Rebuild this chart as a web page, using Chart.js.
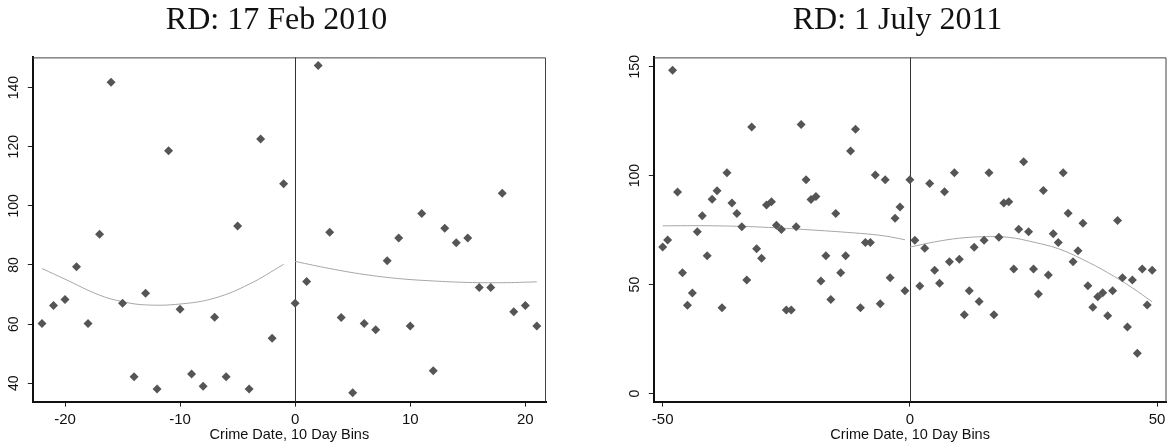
<!DOCTYPE html>
<html>
<head>
<meta charset="utf-8">
<script src="https://cdn.jsdelivr.net/npm/chart.js@4.4.1/dist/chart.umd.min.js"></script>
<style>
    body { margin: 0; background: #fff; width: 1171px; height: 445px; position: relative; overflow: hidden; }
    .panel { position: absolute; top: 0; height: 445px; }
    #panel-2010 { left: 0; width: 552px; }
    #panel-2011 { left: 621px; width: 550px; }
</style>
</head>
<body>
<div class="panel" id="panel-2010"><canvas id="chart-2010" width="552" height="445"></canvas></div>
<div class="panel" id="panel-2011"><canvas id="chart-2011" width="550" height="445"></canvas></div>
<script>
// RD: 17 Feb 2010
const feb2010Bins = [-22, -21, -20, -19, -18, -17, -16, -15, -14, -13, -12, -11, -10, -9, -8, -7, -6, -5, -4, -3, -2, -1,
    0, 1, 2, 3, 4, 5, 6, 7, 8, 9, 10, 11, 12, 13, 14, 15, 16, 17, 18, 19, 20, 21];
const feb2010Counts = [60.2, 66.3, 68.3, 79.4, 60.2, 90.4, 141.8, 67.1, 42.2, 70.4, 38.1, 118.6, 65.0, 43.1, 39.0, 62.3, 42.2, 93.2, 38.1, 122.6, 55.2, 107.5,
    67.1, 74.4, 147.5, 91.1, 62.2, 36.8, 60.2, 58.1, 81.4, 89.1, 59.4, 97.4, 44.2, 92.4, 87.5, 89.1, 72.4, 72.4, 104.3, 64.2, 66.3, 59.4];
const feb2010FitBeforeBins = [-22, -20, -17, -15, -13, -10, -7, -4, -1];
const feb2010FitBefore = [78.8, 75.2, 69.8, 67.6, 66.5, 66.8, 68.8, 73.5, 80.2];
const feb2010FitAfterBins = [0, 3, 6, 9, 12, 15, 18, 21];
const feb2010FitAfter = [81.2, 78.8, 76.8, 75.4, 74.6, 74.1, 74.0, 74.3];
const feb2010XTicks = [-20, -10, 0, 10, 20];
const feb2010YTicks = [40, 60, 80, 100, 120, 140];

// RD: 1 July 2011
const jul2011Bins = [-50, -49, -48, -47, -46, -45, -44, -43, -42, -41, -40, -39, -38, -37, -36, -35, -34, -33, -32, -31,
    -30, -29, -28, -27, -26, -25, -24, -23, -22, -21, -20, -19, -18, -17, -16, -15, -14, -13, -12, -11,
    -10, -9, -8, -7, -6, -5, -4, -3, -2, -1,
    0, 1, 2, 3, 4, 5, 6, 7, 8, 9, 10, 11, 12, 13, 14, 15, 16, 17, 18, 19,
    20, 21, 22, 23, 24, 25, 26, 27, 28, 29, 30, 31, 32, 33, 34, 35, 36, 37, 38, 39,
    40, 41, 42, 43, 44, 45, 46, 47, 48, 49];
const jul2011Counts = [67.3, 70.5, 148.4, 92.5, 55.5, 40.5, 46.1, 74.3, 81.6, 63.3, 89.2, 93.1, 39.4, 101.3, 87.5, 82.6, 76.6, 52.1, 122.3, 66.5,
    62.1, 86.5, 88.0, 77.3, 75.3, 38.3, 38.3, 76.6, 123.5, 98.1, 89.1, 90.4, 51.7, 63.3, 43.2, 82.6, 55.5, 63.3, 111.3, 121.3,
    39.4, 69.3, 69.3, 100.3, 41.2, 98.1, 53.2, 80.5, 85.6, 47.2,
    98.1, 70.4, 49.4, 66.7, 96.4, 56.6, 50.6, 92.6, 60.5, 101.3, 61.6, 36.2, 47.2, 67.1, 42.3, 70.4, 101.3, 36.2, 71.7, 87.5,
    88.0, 57.2, 75.4, 106.4, 74.3, 57.2, 45.7, 93.2, 54.4, 73.3, 69.3, 101.3, 82.8, 60.5, 65.5, 78.2, 49.5, 39.6, 44.4, 46.3,
    35.7, 47.2, 79.4, 53.2, 30.6, 52.1, 18.5, 57.2, 40.6, 56.6];
const jul2011FitBeforeBins = [-50, -40, -30, -20, -10, -5, -1];
const jul2011FitBefore = [77.0, 77.0, 76.4, 75.1, 73.5, 72.3, 70.6];
const jul2011FitAfterBins = [0, 5, 10, 15, 20, 25, 30, 35, 40, 45, 49];
const jul2011FitAfter = [67.2, 69.6, 71.3, 72.0, 71.7, 69.5, 66.5, 61.5, 55.5, 48.5, 42.1];
const jul2011XTicks = [-50, 0, 50];
const jul2011YTicks = [0, 50, 100, 150];

const cutoff = 0;

const markerColor = '#555555';
const fitColor = '#a6a6a6';
const inkColor = '#111111';

window.onload = function() {
    createPanel('#chart-2010', {
        title: 'RD: 17 Feb 2010',
        bins: feb2010Bins, counts: feb2010Counts,
        fitBeforeBins: feb2010FitBeforeBins, fitBefore: feb2010FitBefore,
        fitAfterBins: feb2010FitAfterBins, fitAfter: feb2010FitAfter,
        xTicks: feb2010XTicks, yTicks: feb2010YTicks,
        xMin: -22.8, xMax: 21.8, yMin: 33.8, yMax: 150.2,
        padRight: 6,
    });
    createPanel('#chart-2011', {
        title: 'RD: 1 July 2011',
        bins: jul2011Bins, counts: jul2011Counts,
        fitBeforeBins: jul2011FitBeforeBins, fitBefore: jul2011FitBefore,
        fitAfterBins: jul2011FitAfterBins, fitAfter: jul2011FitAfter,
        xTicks: jul2011XTicks, yTicks: jul2011YTicks,
        xMin: -51.8, xMax: 51.9, yMin: -3.7, yMax: 154.3,
        padRight: 4,
    });
}

function toPoints(xs, ys) {
    return xs.map((x, i) => ({ x: x, y: ys[i] }));
}

// thin frame on top/right plus the vertical cutoff line
const framePlugin = {
    id: 'frame',
    beforeDatasetsDraw(chart) {
        const { ctx, chartArea, scales } = chart;
        const cx = Math.round(scales.x.getPixelForValue(cutoff)) + 0.5;
        ctx.save();
        ctx.strokeStyle = '#333';
        ctx.lineWidth = 1;
        ctx.beginPath();
        ctx.moveTo(cx, chartArea.top);
        ctx.lineTo(cx, chartArea.bottom);
        ctx.stroke();

        ctx.strokeStyle = '#444';
        ctx.beginPath();
        ctx.moveTo(chartArea.left, chartArea.top + 0.5);
        ctx.lineTo(chartArea.right - 0.5, chartArea.top + 0.5);
        ctx.lineTo(chartArea.right - 0.5, chartArea.bottom);
        ctx.stroke();
        ctx.restore();
    },
};

function createPanel(selector, cfg) {
    const canvas = document.querySelector(selector);

    const fitLine = {
        showLine: true,
        borderColor: fitColor,
        borderWidth: 1,
        pointRadius: 0,
        tension: 0.4,
        order: 2,
    };

    const tickFont = { family: "'Liberation Sans', Arial, sans-serif", size: 14 };

    new Chart(canvas, {
        type: 'scatter',
        data: {
            datasets: [
                {
                    data: toPoints(cfg.bins, cfg.counts),
                    pointStyle: 'rectRot',
                    pointRadius: 4.5,
                    backgroundColor: markerColor,
                    borderWidth: 0,
                    order: 1,
                },
                Object.assign({ data: toPoints(cfg.fitBeforeBins, cfg.fitBefore) }, fitLine),
                Object.assign({ data: toPoints(cfg.fitAfterBins, cfg.fitAfter) }, fitLine),
            ],
        },
        options: {
            responsive: false,
            animation: false,
            devicePixelRatio: 1,
            layout: { padding: { left: 7, right: cfg.padRight, top: 0, bottom: 1 } },
            plugins: {
                legend: { display: false },
                tooltip: { enabled: false },
                title: {
                    display: true,
                    text: cfg.title,
                    color: inkColor,
                    font: { family: "'Liberation Serif', 'Times New Roman', serif", size: 32, weight: 'normal' },
                    padding: { top: 1, bottom: 18 },
                },
            },
            scales: {
                x: {
                    type: 'linear',
                    min: cfg.xMin,
                    max: cfg.xMax,
                    afterBuildTicks: axis => { axis.ticks = cfg.xTicks.map(v => ({ value: v })); },
                    ticks: { color: inkColor, font: { family: tickFont.family, size: 15 }, padding: 4, maxRotation: 0 },
                    grid: { drawOnChartArea: false, drawTicks: true, tickLength: 5, tickColor: '#222' },
                    border: { display: true, color: inkColor, width: 2 },
                    title: {
                        display: true,
                        text: 'Crime Date, 10 Day Bins',
                        color: inkColor,
                        font: { family: tickFont.family, size: 14.5 },
                        padding: { top: -6, bottom: 0 },
                    },
                },
                y: {
                    type: 'linear',
                    min: cfg.yMin,
                    max: cfg.yMax,
                    afterBuildTicks: axis => { axis.ticks = cfg.yTicks.map(v => ({ value: v })); },
                    ticks: { color: inkColor, font: tickFont, padding: 2, minRotation: 90, maxRotation: 90, crossAlign: 'center' },
                    grid: { drawOnChartArea: false, drawTicks: true, tickLength: 5, tickColor: '#222' },
                    border: { display: true, color: inkColor, width: 2 },
                },
            },
        },
        plugins: [framePlugin],
    });
}
</script>
</body>
</html>
